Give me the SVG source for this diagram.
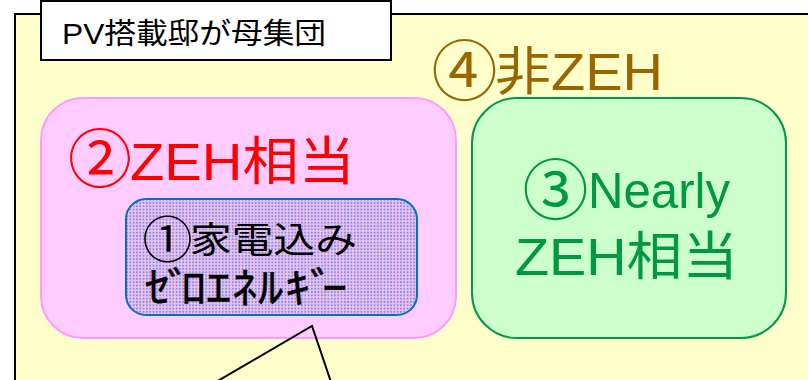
<svg xmlns="http://www.w3.org/2000/svg" width="808" height="380" viewBox="0 0 808 380">
<style>
text{font-family:"Liberation Sans","Noto Sans CJK JP",sans-serif;}
.num{font-family:"Noto Sans CJK JP",sans-serif;text-anchor:middle;}
.frame{fill:#FFFFCC;stroke:#000;stroke-width:2;}
.title{fill:#FFFFFF;stroke:#000;stroke-width:2;}
.zeh{fill:#FFCCFF;stroke:#FF99FF;stroke-width:2;}
.nearly{fill:#CCFFCC;stroke:#00994C;stroke-width:2;}
.home{fill:url(#dots);stroke:#0070C0;stroke-width:2;}
.line{fill:none;stroke:#000;stroke-width:2;}
</style>
<defs>
<pattern id="dots" width="3.3" height="3.3" patternUnits="userSpaceOnUse">
<rect width="3.3" height="3.3" fill="#EEC0F2"/>
<circle cx="1.65" cy="1.65" r="1" fill="#7E8FDA"/>
</pattern>
</defs>
<g id="population">
<rect class="frame" x="15" y="14" width="830" height="420"/>
<text class="num" x="464.5" y="95" font-size="66" fill="#996600">④</text>
<text x="495" y="90" font-size="52" fill="#996600" textLength="168" lengthAdjust="spacingAndGlyphs">非ZEH</text>
</g>
<g id="title">
<rect class="title" x="41" y="1" width="350" height="59"/>
<text x="62" y="44" font-size="29" fill="#000" textLength="264" lengthAdjust="spacingAndGlyphs">PV搭載邸が母集団</text>
</g>
<g id="zeh-equivalent">
<rect class="zeh" x="41" y="98" width="415" height="240" rx="42" ry="42"/>
<text class="num" x="100" y="181.5" font-size="64" fill="#FF0000">②</text>
<text x="130" y="180" font-size="52" fill="#FF0000" textLength="225" lengthAdjust="spacingAndGlyphs">ZEH相当</text>
</g>
<g id="home-appliance-zero">
<rect class="home" x="126" y="199" width="291" height="116" rx="20" ry="20"/>
<text class="num" x="167.5" y="258" font-size="50" fill="#000">①</text>
<text x="190" y="253" font-size="36" fill="#000" textLength="167" lengthAdjust="spacingAndGlyphs">家電込み</text>
<text transform="translate(147,0) scale(1.2,1) translate(-147,0)" y="303" font-size="42" fill="#000" stroke="#000" stroke-width="0.5" x="145.3 163.7 175.3 196.2 217.8 239.5 262 282.8 292.8">ｾﾞﾛｴﾈﾙｷﾞｰ</text>
</g>
<g id="nearly-zeh">
<rect class="nearly" x="472" y="98" width="314" height="240" rx="45" ry="45"/>
<text class="num" x="555.5" y="214" font-size="66" fill="#009940">③</text>
<text x="588" y="208" font-size="50" fill="#009940" textLength="142" lengthAdjust="spacingAndGlyphs">Nearly</text>
<text x="515" y="275" font-size="52" fill="#009940" textLength="223" lengthAdjust="spacingAndGlyphs">ZEH相当</text>
</g>
<g id="connectors">
<polyline class="line" points="216,382 312,326 331,382"/>
</g>
</svg>
